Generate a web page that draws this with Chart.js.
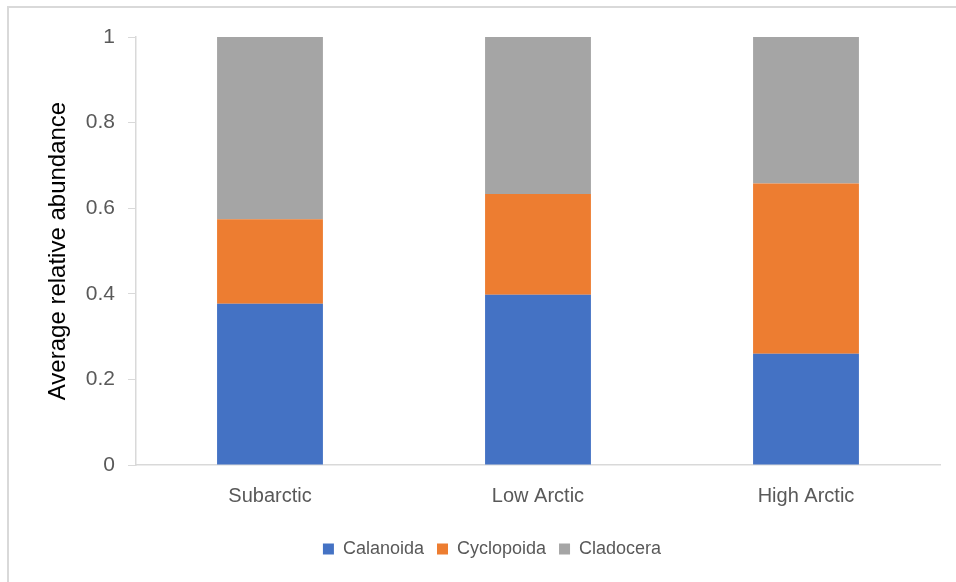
<!DOCTYPE html>
<html>
<head>
<meta charset="utf-8">
<script src="https://cdn.jsdelivr.net/npm/chart.js@4.4.1/dist/chart.umd.min.js"></script>
<style>
  html, body { margin: 0; padding: 0; background: #fff; overflow: hidden; }
  .frame { position: absolute; left: 7px; top: 6px; width: 1000px; height: 650px; border: 2px solid #d9d9d9; }
  .chart-box { position: absolute; left: 0; top: 0; width: 956px; height: 582px; }
</style>
</head>
<body>
<div class="frame"></div>
<div class="chart-box"><canvas id="myChart"></canvas></div>
<script>
const regions = ['Subarctic', 'Low Arctic', 'High Arctic'];
const calanoida = [0.377, 0.398, 0.26];
const cyclopoida = [0.197, 0.235, 0.398];
const cladocera = [0.426, 0.367, 0.342];
const yTicks = [0, 0.2, 0.4, 0.6, 0.8, 1];

const font = "'Liberation Sans Narrow', 'Liberation Sans', sans-serif";
const textColor = '#595959';

const ctx = document.getElementById('myChart').getContext('2d');
const myChart = new Chart(ctx, {
  type: 'bar',
  data: {
    labels: regions,
    datasets: [
      { label: 'Calanoida', data: calanoida, backgroundColor: '#4472C4' },
      { label: 'Cyclopoida', data: cyclopoida, backgroundColor: '#ED7D31' },
      { label: 'Cladocera', data: cladocera, backgroundColor: '#A5A5A5' }
    ]
  },
  options: {
    responsive: true,
    maintainAspectRatio: false,
    animation: false,
    datasets: { bar: { categoryPercentage: 1, barPercentage: 0.395 } },
    layout: { padding: { left: 44, right: 16, top: 37, bottom: 14 } },
    plugins: {
      tooltip: { enabled: false },
      legend: {
        position: 'bottom',
        labels: {
          color: textColor,
          font: { family: font, size: 18 },
          boxWidth: 11,
          boxHeight: 11,
          padding: 13
        }
      }
    },
    scales: {
      x: {
        stacked: true,
        grid: { display: true, drawOnChartArea: false, drawTicks: false },
        border: { color: '#d9d9d9', width: 1.5 },
        ticks: { color: textColor, font: { family: font, size: 20 }, padding: 19 }
      },
      y: {
        stacked: true,
        min: 0,
        max: 1,
        afterBuildTicks: axis => { axis.ticks = yTicks.map(v => ({ value: v })); },
        grid: { display: true, drawOnChartArea: false, tickLength: 8, color: '#d9d9d9' },
        border: { color: '#d9d9d9', width: 1.5 },
        ticks: {
          color: textColor,
          font: { family: font, size: 21 },
          padding: 13,
          callback: v => String(v)
        },
        title: {
          display: true,
          text: 'Average relative abundance',
          color: '#000',
          font: { family: font, size: 24 },
          padding: { top: 0, bottom: 0 }
        }
      }
    }
  }
});
</script>
</body>
</html>
